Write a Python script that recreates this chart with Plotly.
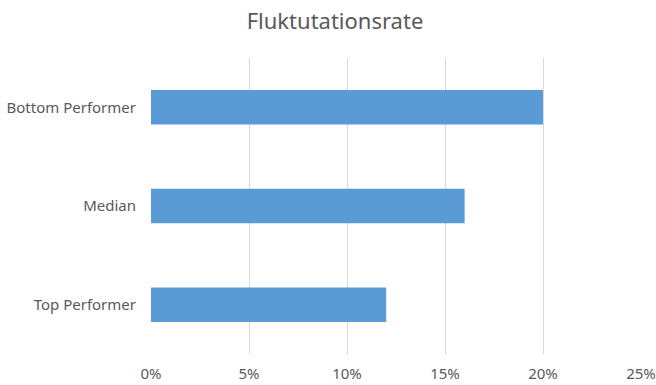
import plotly.graph_objects as go

categories = ["Bottom Performer", "Median", "Top Performer"]
values = [0.20, 0.16, 0.12]
tick_vals = [0, 0.05, 0.10, 0.15, 0.20, 0.25]
tick_text = ["0%", "5%", "10%", "15%", "20%", "25%"]

fig = go.Figure(go.Bar(
    x=values, y=categories, orientation="h",
    marker=dict(color="#5B9BD5", line=dict(width=0)),
    width=0.35,
))

fig.update_layout(
    width=656, height=385,
    margin=dict(l=151, r=15, t=58, b=31),
    paper_bgcolor="white", plot_bgcolor="white",
    title=dict(text="Fluktutationsrate", x=335 / 656, xanchor="center", y=1 - 21 / 385, yanchor="middle",
               font=dict(family="Noto Sans", size=22, color="#595959")),
    font=dict(family="Noto Sans", size=15, color="#595959"),
    showlegend=False,
    bargap=0.6,
)
fig.update_xaxes(range=[0, 0.25], tickvals=tick_vals, ticktext=tick_text,
                 showgrid=True, gridcolor="#D9D9D9", gridwidth=1,
                 zeroline=False, showline=False, ticklabelstandoff=9, automargin=False,
                 tickfont=dict(size=15, color="#595959"))
fig.update_yaxes(categoryorder="array", categoryarray=categories, autorange="reversed",
                 showgrid=False, zeroline=False, showline=False, ticklabelstandoff=14,
                 automargin=False, tickfont=dict(size=15, color="#595959"))

fig.write_html("out.html")
